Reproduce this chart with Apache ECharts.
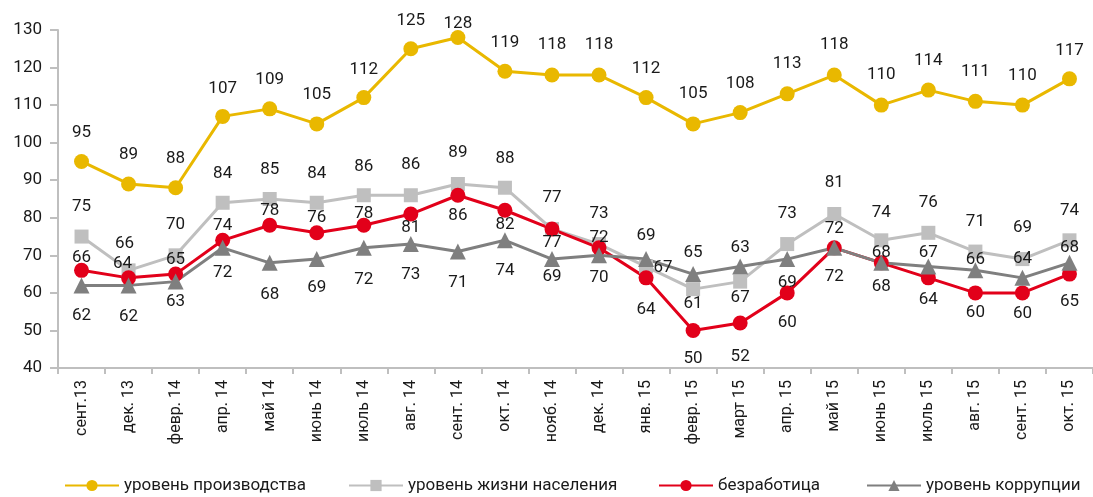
<!DOCTYPE html>
<html style="height: 100%">
<head>
<meta charset="UTF-8" />
<title>Индексы</title>
<style>
html, body { margin: 0; padding: 0; background: #ffffff; }
#chartBox { width: 1093px; height: 497px; }
</style>
</head>
<body>
	<div id="chartBox"></div>

	<script src="https://cdn.jsdelivr.net/npm/echarts@6/dist/echarts.min.js"></script>
	<script>
		// категории (ось X)
		var months = ['сент.13', 'дек. 13', 'февр. 14', 'апр. 14', 'май 14', 'июнь 14', 'июль 14', 'авг. 14',
			'сент. 14', 'окт. 14', 'нояб. 14', 'дек. 14', 'янв. 15', 'февр. 15', 'март 15', 'апр. 15',
			'май 15', 'июнь 15', 'июль 15', 'авг. 15', 'сент. 15', 'окт. 15'];

		// значения рядов
		var production = [95, 89, 88, 107, 109, 105, 112, 125, 128, 119, 118, 118, 112, 105, 108, 113, 118, 110, 114, 111, 110, 117];
		var living = [75, 66, 70, 84, 85, 84, 86, 86, 89, 88, 77, 73, 67, 61, 63, 73, 81, 74, 76, 71, 69, 74];
		var unemployment = [66, 64, 65, 74, 78, 76, 78, 81, 86, 82, 77, 72, 64, 50, 52, 60, 72, 68, 64, 60, 60, 65];
		var corruption = [62, 62, 63, 72, 68, 69, 72, 73, 71, 74, 69, 70, 69, 65, 67, 69, 72, 68, 67, 66, 64, 68];

		var seriesNames = ['уровень производства', 'уровень жизни населения', 'безработица', 'уровень коррупции'];
		var yTicks = [40, 50, 60, 70, 80, 90, 100, 110, 120, 130];

		// сдвиги подписей (как вручную расставлено в исходнике)
		var prodDy = [-29, -29, -29, -28, -29, -29, -28, -28, -14, -29, -30, -30, -29, -30, -29, -30, -30, -30, -29, -30, -29, -28];
		var livDy = [-30, -27, -31, -29, -29, -29, -28, -30, -31, -29, -31, -30, 1, 15, -34, -30, -31, -28, -30, -30, -31, -30];
		var unempDy = [-13, -14, -14, -15, -15, -15, -12, 14, 21, 14, 14, -10, 32, 28, 34, 30, 29, -10, 22, 20, 21, 28];
		var corrDy = [30, 31, 20, 25, 32, 29, 32, 31, 31, 30, 18, 22, -23, -21, 31, 24, -19, 24, -14, -11, -19, -15];
		var livDx = { 1: -4, 12: 17 };
		var unempDx = { 1: -6 };

		var fontName = "'Liberation Sans Narrow', 'Roboto', sans-serif";
		var txtColor = '#1a1a1a';

		var withLabels = function(vals, dys, dxs) {
			var res = [];
			for (var i = 0; i < vals.length; i++) {
				res.push({
					value : vals[i],
					label : { offset : [ (dxs && dxs[i]) || 0, dys[i] ] }
				});
			}
			return res;
		};

		var makeSeries = function(name, color, symbol, size, data) {
			return {
				name : name,
				type : 'line',
				data : data,
				symbol : symbol,
				symbolSize : size,
				showAllSymbol : true,
				lineStyle : { color : color, width : 3 },
				itemStyle : { color : color },
				label : {
					show : true,
					position : 'inside',
					color : txtColor,
					fontFamily : fontName,
					fontSize : 17
				},
				emphasis : { disabled : true },
				animation : false
			};
		};

		// легенда: по одной на каждый ряд, чтобы выставить позиции
		var legendLeft = [59, 343, 653, 861];
		var legends = [];
		for (var k = 0; k < seriesNames.length; k++) {
			legends.push({
				left : legendLeft[k],
				top : 472,
				itemWidth : 54,
				itemHeight : 14,
				textStyle : { color : txtColor, fontFamily : fontName, fontSize : 17 },
				data : [ seriesNames[k] ]
			});
		}

		var myChart = echarts.init(document.getElementById('chartBox'));
		var option = {
			backgroundColor : '#ffffff',
			grid : { left : 58, right : -12, top : 30, bottom : 129 },
			legend : legends,
			xAxis : {
				type : 'category',
				data : months,
				boundaryGap : true,
				axisLine : { lineStyle : { color : '#bfbfbf', width : 2 } },
				axisTick : { show : true, length : 6, lineStyle : { color : '#bfbfbf', width : 2 } },
				axisLabel : {
					rotate : 90,
					margin : 12,
					color : txtColor,
					fontFamily : fontName,
					fontSize : 16,
					interval : 0
				}
			},
			yAxis : {
				type : 'value',
				min : yTicks[0],
				max : yTicks[yTicks.length - 1],
				interval : 10,
				splitLine : { show : false },
				axisLine : { show : true, lineStyle : { color : '#bfbfbf', width : 2 } },
				axisTick : { show : true, length : 8, lineStyle : { color : '#bfbfbf', width : 2 } },
				axisLabel : { margin : 16, color : txtColor, fontFamily : fontName, fontSize : 17 }
			},
			series : [
				makeSeries(seriesNames[0], '#e9b800', 'circle', 15, withLabels(production, prodDy)),
				makeSeries(seriesNames[1], '#bfbfbf', 'rect', 14, withLabels(living, livDy, livDx)),
				makeSeries(seriesNames[2], '#e2001a', 'circle', 15, withLabels(unemployment, unempDy, unempDx)),
				makeSeries(seriesNames[3], '#7f7f7f', 'triangle', 16, withLabels(corruption, corrDy))
			]
		};
		myChart.setOption(option);
	</script>
</body>
</html>
